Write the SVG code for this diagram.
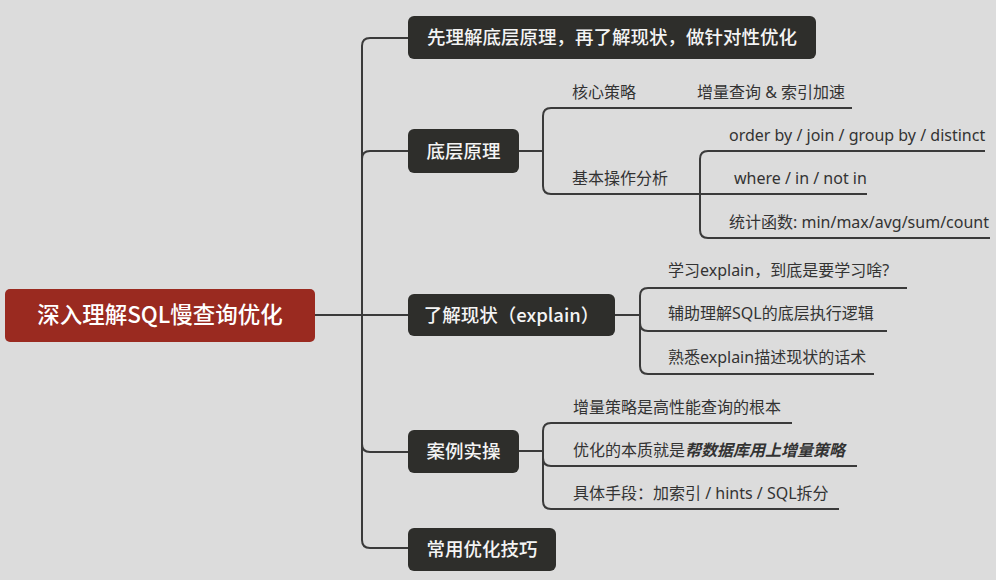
<svg xmlns="http://www.w3.org/2000/svg" width="996" height="580" viewBox="0 0 996 580">
<style>
.bg{fill:#dcdcdc}
.node{fill:#2e2e2b}
.root{fill:#9a2a20}
.nt{font-family:"Noto Sans CJK SC","Noto Sans",sans-serif;font-size:18.5px;font-weight:500;fill:#f4f4f4;text-anchor:middle}
.rt{font-family:"Noto Sans CJK SC","Noto Sans",sans-serif;font-size:22.5px;font-weight:500;fill:#ffffff;text-anchor:middle}
.st{font-family:"Noto Sans","Noto Sans CJK SC",sans-serif;font-size:16px;fill:#333333}
.ln{fill:none;stroke:#3a3a3a;stroke-width:2}
</style>
<rect class="bg" x="0" y="0" width="996" height="580"/>
<g id="connectors">
<path class="ln" d="M315,315 H408"/>
<path class="ln" d="M408,38 H370 Q362,38 362,46 V540 Q362,548 370,548 H408"/>
<path class="ln" d="M408,151 H370 Q362,151 362,159"/>
<path class="ln" d="M408,452 H370 Q362,452 362,444"/>
<path class="ln" d="M519,151 H543"/>
<path class="ln" d="M852,108 H551 Q543,108 543,116 V186 Q543,194 551,194 H867"/>
<path class="ln" d="M985,151 H708 Q700,151 700,159 V230 Q700,238 708,238 H990"/>
<path class="ln" d="M615,315 H640"/>
<path class="ln" d="M907,288 H648 Q640,288 640,296 V366 Q640,374 648,374 H874"/>
<path class="ln" d="M640,323 Q640,331 648,331 H887"/>
<path class="ln" d="M519,451 H543"/>
<path class="ln" d="M792,423 H551 Q543,423 543,431 V501 Q543,509 551,509 H839"/>
<path class="ln" d="M543,458 Q543,466 551,466 H857"/>
</g>
<g id="root">
<rect class="root" x="5" y="289" width="310" height="53" rx="5"/>
<text class="rt" x="160" y="323">深入理解SQL慢查询优化</text>
</g>
<g id="n-first">
<rect class="node" x="408" y="16" width="408" height="43" rx="6"/>
<text class="nt" x="612" y="44">先理解底层原理，再了解现状，做针对性优化</text>
</g>
<g id="n-principle">
<rect class="node" x="408" y="129" width="111" height="44" rx="6"/>
<text class="nt" x="463.5" y="158">底层原理</text>
</g>
<g id="n-explain">
<rect class="node" x="408" y="294" width="207" height="42" rx="6"/>
<text class="nt" x="511.5" y="322">了解现状（explain）</text>
</g>
<g id="n-case">
<rect class="node" x="408" y="430" width="111" height="43" rx="6"/>
<text class="nt" x="463.5" y="458">案例实操</text>
</g>
<g id="n-tips">
<rect class="node" x="408" y="528" width="148" height="43" rx="6"/>
<text class="nt" x="482" y="556">常用优化技巧</text>
</g>
<g id="s-core"><text class="st" x="572" y="98">核心策略</text></g>
<g id="s-core-1"><text class="st" x="697" y="98">增量查询 &amp; 索引加速</text></g>
<g id="s-basic"><text class="st" x="572" y="184">基本操作分析</text></g>
<g id="s-basic-1"><text class="st" x="729" y="141">order by / join / group by / distinct</text></g>
<g id="s-basic-2"><text class="st" x="734" y="184">where / in / not in</text></g>
<g id="s-basic-3"><text class="st" x="729" y="228">统计函数: min/max/avg/sum/count</text></g>
<g id="s-exp-1"><text class="st" x="668" y="276">学习explain，到底是要学习啥?</text></g>
<g id="s-exp-2"><text class="st" x="668" y="319">辅助理解SQL的底层执行逻辑</text></g>
<g id="s-exp-3"><text class="st" x="668" y="363">熟悉explain描述现状的话术</text></g>
<g id="s-case-1"><text class="st" x="573" y="413">增量策略是高性能查询的根本</text></g>
<g id="s-case-2"><text class="st" x="573" y="456">优化的本质就是<tspan font-style="italic" font-weight="bold">帮数据库用上增量策略</tspan></text></g>
<g id="s-case-3"><text class="st" x="573" y="499">具体手段：加索引 / hints / SQL拆分</text></g>
</svg>
